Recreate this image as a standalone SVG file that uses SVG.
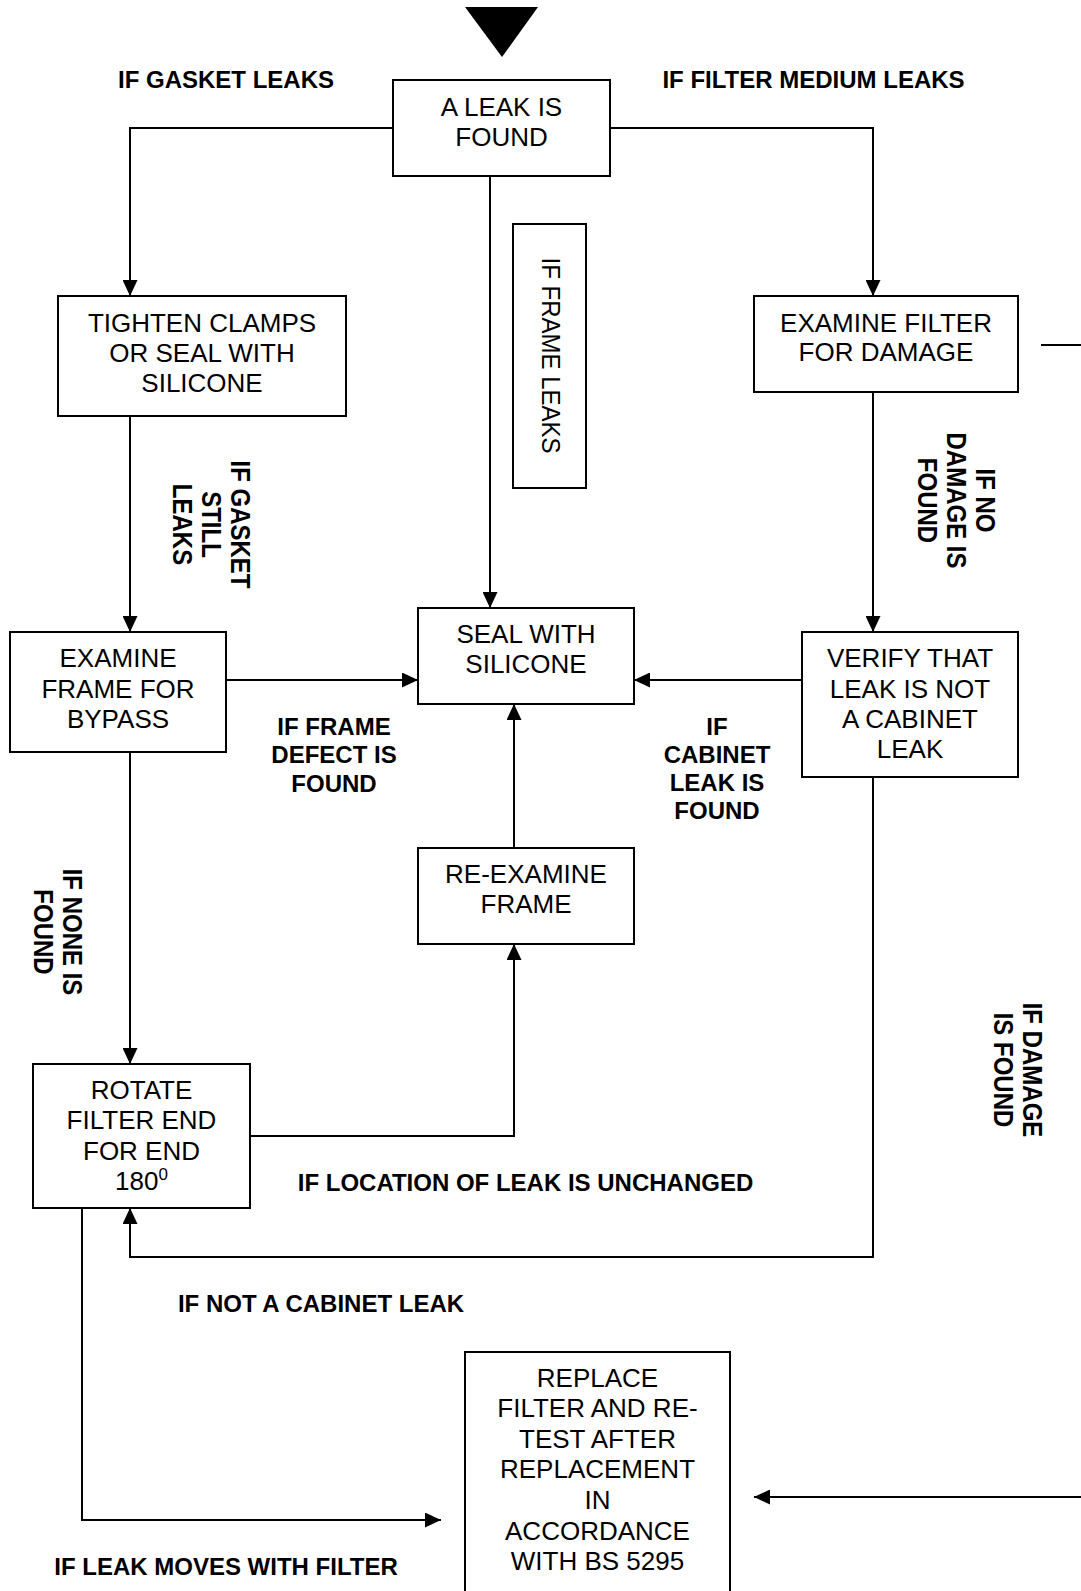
<svg xmlns="http://www.w3.org/2000/svg" width="1081" height="1591" viewBox="0 0 1081 1591">
<style>
.box{fill:#fff;stroke:#000;stroke-width:2}
.t{font-family:"Liberation Sans",Arial,sans-serif;font-size:26px;text-anchor:middle;fill:#000}
.l{font-family:"Liberation Sans",Arial,sans-serif;font-size:24px;font-weight:bold;text-anchor:middle;fill:#000}
.lr{font-family:"Liberation Sans",Arial,sans-serif;font-size:24px;text-anchor:middle;fill:#000}
.c{fill:none;stroke:#000;stroke-width:2}
</style>
<defs>
<marker id="ah" markerUnits="userSpaceOnUse" markerWidth="16" markerHeight="15" refX="16" refY="7.5" orient="auto">
<path d="M0,0 L16,7.5 L0,15 z" fill="#000"/>
</marker>
</defs>
<rect width="1081" height="1591" fill="#fff"/>
<g id="connectors">
<polygon points="465,7 538,7 502,57" fill="#000"/>
<path class="c" d="M393,128 H130 V296" marker-end="url(#ah)"/>
<path class="c" d="M610,128 H873 V296" marker-end="url(#ah)"/>
<path class="c" d="M490,176 V608" marker-end="url(#ah)"/>
<path class="c" d="M130,416 V632" marker-end="url(#ah)"/>
<path class="c" d="M873,392 V632" marker-end="url(#ah)"/>
<path class="c" d="M226,680 H418" marker-end="url(#ah)"/>
<path class="c" d="M802,680 H634" marker-end="url(#ah)"/>
<path class="c" d="M130,752 V1064" marker-end="url(#ah)"/>
<path class="c" d="M250,1136 H514 V944" marker-end="url(#ah)"/>
<path class="c" d="M514,848 V704" marker-end="url(#ah)"/>
<path class="c" d="M873,777 V1257 H130 V1208" marker-end="url(#ah)"/>
<path class="c" d="M82,1208 V1520 H441" marker-end="url(#ah)"/>
<path class="c" d="M1081,1497 H754" marker-end="url(#ah)"/>
<path class="c" d="M1041,345 H1081"/>
</g>
<g id="n-leak">
<rect class="box" x="393" y="80" width="217" height="96"/>
<text class="t" x="501.5" y="116">A LEAK IS</text>
<text class="t" x="501.5" y="146">FOUND</text>
</g>
<g id="n-tighten">
<rect class="box" x="58" y="296" width="288" height="120"/>
<text class="t" x="202" y="332">TIGHTEN CLAMPS</text>
<text class="t" x="202" y="362">OR SEAL WITH</text>
<text class="t" x="202" y="392">SILICONE</text>
</g>
<g id="n-examine-filter">
<rect class="box" x="754" y="296" width="264" height="96"/>
<text class="t" x="886" y="332">EXAMINE FILTER</text>
<text class="t" x="886" y="361">FOR DAMAGE</text>
</g>
<g id="n-frame-leaks">
<rect class="box" x="513" y="224" width="73" height="264"/>
<g transform="translate(542,355.5) rotate(90) scale(1,1.06)"><text class="lr" x="0" y="0">IF FRAME LEAKS</text></g>
</g>
<g id="n-seal">
<rect class="box" x="418" y="608" width="216" height="96"/>
<text class="t" x="526" y="643">SEAL WITH</text>
<text class="t" x="526" y="673">SILICONE</text>
</g>
<g id="n-examine-frame">
<rect class="box" x="10" y="632" width="216" height="120"/>
<text class="t" x="118" y="667">EXAMINE</text>
<text class="t" x="118" y="698">FRAME FOR</text>
<text class="t" x="118" y="728">BYPASS</text>
</g>
<g id="n-verify">
<rect class="box" x="802" y="632" width="216" height="145"/>
<text class="t" x="910" y="667">VERIFY THAT</text>
<text class="t" x="910" y="698">LEAK IS NOT</text>
<text class="t" x="910" y="728">A CABINET</text>
<text class="t" x="910" y="758">LEAK</text>
</g>
<g id="n-reexamine">
<rect class="box" x="418" y="848" width="216" height="96"/>
<text class="t" x="526" y="883">RE-EXAMINE</text>
<text class="t" x="526" y="913">FRAME</text>
</g>
<g id="n-rotate">
<rect class="box" x="33" y="1064" width="217" height="144"/>
<text class="t" x="141.5" y="1099">ROTATE</text>
<text class="t" x="141.5" y="1129">FILTER END</text>
<text class="t" x="141.5" y="1160">FOR END</text>
<text class="t" x="141.5" y="1190">180<tspan font-size="17" dy="-10">0</tspan></text>
</g>
<g id="n-replace">
<rect class="box" x="465" y="1352" width="265" height="260"/>
<text class="t" x="597.5" y="1387">REPLACE</text>
<text class="t" x="597.5" y="1417">FILTER AND RE-</text>
<text class="t" x="597.5" y="1448">TEST AFTER</text>
<text class="t" x="597.5" y="1478">REPLACEMENT</text>
<text class="t" x="597.5" y="1509">IN</text>
<text class="t" x="597.5" y="1540">ACCORDANCE</text>
<text class="t" x="597.5" y="1570">WITH BS 5295</text>
</g>
<g id="labels">
<text class="l" x="226" y="88">IF GASKET LEAKS</text>
<text class="l" x="813.5" y="88">IF FILTER MEDIUM LEAKS</text>
<text class="l" x="334" y="735">IF FRAME</text>
<text class="l" x="334" y="763">DEFECT IS</text>
<text class="l" x="334" y="792">FOUND</text>
<text class="l" x="717" y="735">IF</text>
<text class="l" x="717" y="763">CABINET</text>
<text class="l" x="717" y="791">LEAK IS</text>
<text class="l" x="717" y="819">FOUND</text>
<text class="l" x="525.5" y="1191">IF LOCATION OF LEAK IS UNCHANGED</text>
<text class="l" x="321" y="1312">IF NOT A CABINET LEAK</text>
<text class="l" x="226" y="1575">IF LEAK MOVES WITH FILTER</text>
<g transform="translate(231,524.5) rotate(90) scale(1,1.17)"><text class="l"><tspan x="0" y="0">IF GASKET</tspan><tspan x="0" dy="24.8">STILL</tspan><tspan x="0" dy="24.8">LEAKS</tspan></text></g>
<g transform="translate(976,500.5) rotate(90) scale(1,1.17)"><text class="l"><tspan x="0" y="0">IF NO</tspan><tspan x="0" dy="24.8">DAMAGE IS</tspan><tspan x="0" dy="24.8">FOUND</tspan></text></g>
<g transform="translate(63,932) rotate(90) scale(1,1.17)"><text class="l"><tspan x="0" y="0">IF NONE IS</tspan><tspan x="0" dy="24.8">FOUND</tspan></text></g>
<g transform="translate(1023,1070) rotate(90) scale(1,1.17)"><text class="l"><tspan x="0" y="0">IF DAMAGE</tspan><tspan x="0" dy="24.8">IS FOUND</tspan></text></g>
</g>
</svg>
